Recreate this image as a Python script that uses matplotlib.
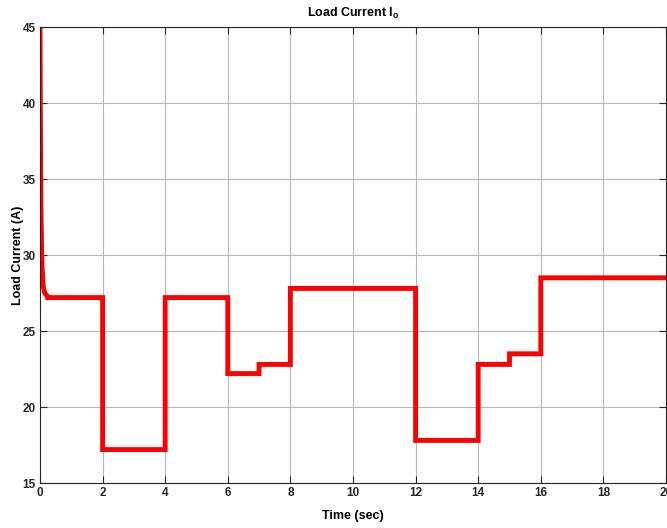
import matplotlib
matplotlib.use("Agg")
import matplotlib.pyplot as plt
import numpy as np

plt.rcParams['font.family'] = ['Liberation Sans', 'DejaVu Sans']
plt.rcParams['mathtext.fontset'] = 'custom'
plt.rcParams['mathtext.rm'] = 'Liberation Sans'
plt.rcParams['mathtext.bf'] = 'Liberation Sans:bold'

# transitorio inicial
t_arranque = [0, 0.01, 0.03, 0.06, 0.1, 0.15, 0.25]
i_arranque = [45, 40, 33, 29.5, 28, 27.5, 27.25]

# escalones de carga
t_escalon = [0.25, 2, 4, 6, 7, 8, 12, 14, 15, 16]
i_escalon = [27.2, 17.2, 27.2, 22.2, 22.8, 27.8, 17.8, 22.8, 23.5, 28.5]
t_final = 20

x_ticks = np.arange(0, 21, 2)
y_ticks = np.arange(15, 46, 5)

# armar la curva completa
tiempo = list(t_arranque)
corriente = list(i_arranque)
for k in range(len(t_escalon)):
    t0 = t_escalon[k]
    t1 = t_escalon[k + 1] if k + 1 < len(t_escalon) else t_final
    tiempo += [t0, t1]
    corriente += [i_escalon[k], i_escalon[k]]

fig = plt.figure(figsize=(6.67, 5.28), dpi=100)
ax = fig.add_axes([40 / 667, 1 - 483 / 528, 626 / 667, 456 / 528])
ax.plot(tiempo, corriente, color='#ff0000', linewidth=3.5, solid_joinstyle='miter')

ax.set_xlim(0, 20)
ax.set_ylim(15, 45)
ax.set_xticks(x_ticks)
ax.set_yticks(y_ticks)
ax.grid(True, color='#b8b8b8', linewidth=0.8)
ax.tick_params(direction='in', length=5, width=0.8, color='#262626',
               labelsize=8.5, pad=3, top=True, right=True)
for lab in ax.get_xticklabels() + ax.get_yticklabels():
    lab.set_fontweight('bold')
    lab.set_color('#262626')
for s in ax.spines.values():
    s.set_color('#262626')
    s.set_linewidth(0.8)

ax.set_title(r'Load Current I$_\mathbf{o}$', fontsize=9, fontweight='bold', pad=7)
ax.set_xlabel('Time (sec)', fontsize=9, fontweight='bold', labelpad=8)
ax.set_ylabel('Load Current (A)', fontsize=9, fontweight='bold')
ax.yaxis.set_label_coords(-16 / 626, 0.5)

fig.savefig('out.png', dpi=100)
